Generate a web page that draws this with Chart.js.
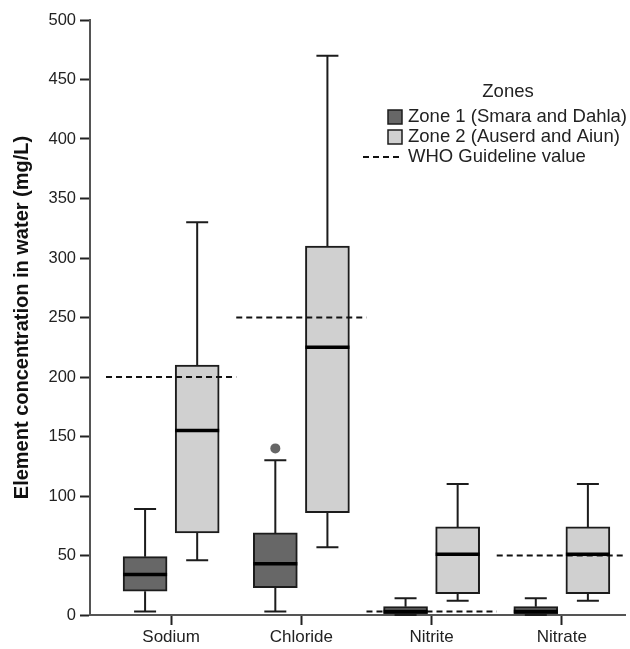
<!DOCTYPE html>
<html>
<head>
<meta charset="utf-8">
<script src="https://cdn.jsdelivr.net/npm/chart.js@4"></script>
<style>
  body { margin: 0; background: #fff; }
  #wrap { width: 630px; height: 649px; }
</style>
</head>
<body>
<div id="wrap"><canvas id="boxChart" width="630" height="649"></canvas></div>
<script>
const categories = ["Sodium", "Chloride", "Nitrite", "Nitrate"];

const zone1Min = [3, 3, 0, 0];
const zone1Q1 = [20, 23, 1, 1];
const zone1Median = [34, 43, 3, 3];
const zone1Q3 = [49, 69, 7, 7];
const zone1Max = [89, 130, 14, 14];
const zone1Outliers = [[], [140], [], []];

const zone2Min = [46, 57, 12, 12];
const zone2Q1 = [69, 86, 18, 18];
const zone2Median = [155, 225, 51, 51];
const zone2Q3 = [210, 310, 74, 74];
const zone2Max = [330, 470, 110, 110];

const whoGuideline = [200, 250, 3, 50];

const zoneNames = ["Zone 1 (Smara and Dahla)", "Zone 2 (Auserd and Aiun)"];
const whoLabel = "WHO Guideline value";

const FONT = "'Liberation Sans', Arial, sans-serif";
const zoneColors = ["#676767", "#d0d0d0"];
const zoneOffset = [-0.2, 0.2];
const outline = "#1c1c1c";

const zones = [
  { min: zone1Min, q1: zone1Q1, med: zone1Median, q3: zone1Q3, max: zone1Max },
  { min: zone2Min, q1: zone2Q1, med: zone2Median, q3: zone2Q3, max: zone2Max },
];

function boxData(z, k) {
  return categories.map((c, i) => ({ x: i + zoneOffset[k], y: [z.q1[i], z.q3[i]] }));
}

const whoPoints = [];
whoGuideline.forEach((v, i) => {
  whoPoints.push({ x: i - 0.5, y: v }, { x: i + 0.5, y: v }, { x: i + 0.5, y: null });
});

const outlierPoints = [];
zone1Outliers.forEach((arr, i) => {
  arr.forEach((v) => outlierPoints.push({ x: i + zoneOffset[0], y: v }));
});

// whiskers and medians, drawn through the scales
const whiskerPlugin = {
  id: "whiskers",
  afterDatasetsDraw(chart) {
    const { ctx } = chart;
    const xs = chart.scales.x;
    const ys = chart.scales.y;
    ctx.save();
    zones.forEach((z, k) => {
      categories.forEach((c, i) => {
        const cx = xs.getPixelForValue(i + zoneOffset[k]);
        const capHalf = 11;
        const boxHalf = 22;
        ctx.strokeStyle = outline;
        ctx.lineWidth = 2;
        ctx.beginPath();
        ctx.moveTo(cx, ys.getPixelForValue(z.q3[i]));
        ctx.lineTo(cx, ys.getPixelForValue(z.max[i]));
        ctx.moveTo(cx - capHalf, ys.getPixelForValue(z.max[i]));
        ctx.lineTo(cx + capHalf, ys.getPixelForValue(z.max[i]));
        ctx.moveTo(cx, ys.getPixelForValue(z.q1[i]));
        ctx.lineTo(cx, ys.getPixelForValue(z.min[i]));
        ctx.moveTo(cx - capHalf, ys.getPixelForValue(z.min[i]));
        ctx.lineTo(cx + capHalf, ys.getPixelForValue(z.min[i]));
        ctx.stroke();
        ctx.lineWidth = 3.5;
        ctx.strokeStyle = "#000";
        ctx.beginPath();
        ctx.moveTo(cx - boxHalf, ys.getPixelForValue(z.med[i]));
        ctx.lineTo(cx + boxHalf, ys.getPixelForValue(z.med[i]));
        ctx.stroke();
      });
    });
    ctx.restore();
  },
};

const legendPlugin = {
  id: "zoneLegend",
  afterDraw(chart) {
    const { ctx } = chart;
    ctx.save();
    ctx.fillStyle = "#222";
    ctx.font = "18.5px " + FONT;
    ctx.textBaseline = "middle";
    ctx.textAlign = "center";
    ctx.fillText("Zones", 508, 92);
    ctx.textAlign = "left";
    const rows = [117, 137, 157];
    zoneNames.forEach((name, k) => {
      ctx.fillStyle = zoneColors[k];
      ctx.fillRect(388, rows[k] - 7, 14, 14);
      ctx.strokeStyle = outline;
      ctx.lineWidth = 1.5;
      ctx.strokeRect(388, rows[k] - 7, 14, 14);
      ctx.fillStyle = "#222";
      ctx.fillText(name, 408, rows[k]);
    });
    ctx.strokeStyle = "#111";
    ctx.lineWidth = 2;
    ctx.setLineDash([6, 4]);
    ctx.beginPath();
    ctx.moveTo(363, rows[2]);
    ctx.lineTo(403, rows[2]);
    ctx.stroke();
    ctx.setLineDash([]);
    ctx.fillText(whoLabel, 408, rows[2]);
    ctx.restore();
  },
};

new Chart(document.getElementById("boxChart"), {
  type: "bar",
  data: {
    datasets: [
      {
        label: zoneNames[0],
        data: boxData(zones[0], 0),
        backgroundColor: zoneColors[0],
        borderColor: outline,
        borderWidth: 2,
        borderSkipped: false,
        barThickness: 44,
        grouped: false,
        order: 3,
      },
      {
        label: zoneNames[1],
        data: boxData(zones[1], 1),
        backgroundColor: zoneColors[1],
        borderColor: outline,
        borderWidth: 2,
        borderSkipped: false,
        barThickness: 44,
        grouped: false,
        order: 3,
      },
      {
        type: "line",
        label: whoLabel,
        data: whoPoints,
        borderColor: "#111",
        borderWidth: 2,
        borderDash: [6, 4],
        pointRadius: 0,
        spanGaps: false,
        fill: false,
        order: 1,
      },
      {
        type: "scatter",
        label: "Outliers",
        data: outlierPoints,
        backgroundColor: "#666",
        borderWidth: 0,
        pointRadius: 5,
        order: 0,
      },
    ],
  },
  options: {
    responsive: false,
    animation: false,
    layout: { padding: { top: 20, right: 0, left: 0, bottom: 0 } },
    plugins: {
      legend: { display: false },
      tooltip: { enabled: false },
    },
    scales: {
      x: {
        type: "linear",
        offset: false,
        min: -0.623,
        max: 3.485,
        afterBuildTicks: (scale) => {
          scale.ticks = categories.map((c, i) => ({ value: i }));
        },
        afterFit: (scale) => {
          scale.height = 34;
        },
        ticks: {
          callback: (v) => categories[v],
          color: "#222",
          font: { family: FONT, size: 17 },
          padding: 2,
          maxRotation: 0,
          autoSkip: false,
        },
        grid: {
          offset: false,
          drawOnChartArea: false,
          drawTicks: true,
          tickLength: 10,
          tickColor: "#222",
          tickWidth: 2,
        },
        border: { display: true, color: "#555", width: 2 },
      },
      y: {
        min: 0,
        max: 500,
        afterFit: (scale) => {
          scale.width = 90;
        },
        ticks: {
          stepSize: 50,
          color: "#222",
          font: { family: FONT, size: 16.5 },
          padding: 4,
        },
        grid: {
          drawOnChartArea: false,
          drawTicks: true,
          tickLength: 10,
          tickColor: "#222",
          tickWidth: 2,
        },
        border: { display: true, color: "#555", width: 2 },
        title: {
          display: true,
          text: "Element concentration in water (mg/L)",
          color: "#111",
          font: { family: FONT, size: 20, weight: "bold" },
          padding: { top: 10, bottom: 0 },
        },
      },
    },
  },
  plugins: [whiskerPlugin, legendPlugin],
});
</script>
</body>
</html>
